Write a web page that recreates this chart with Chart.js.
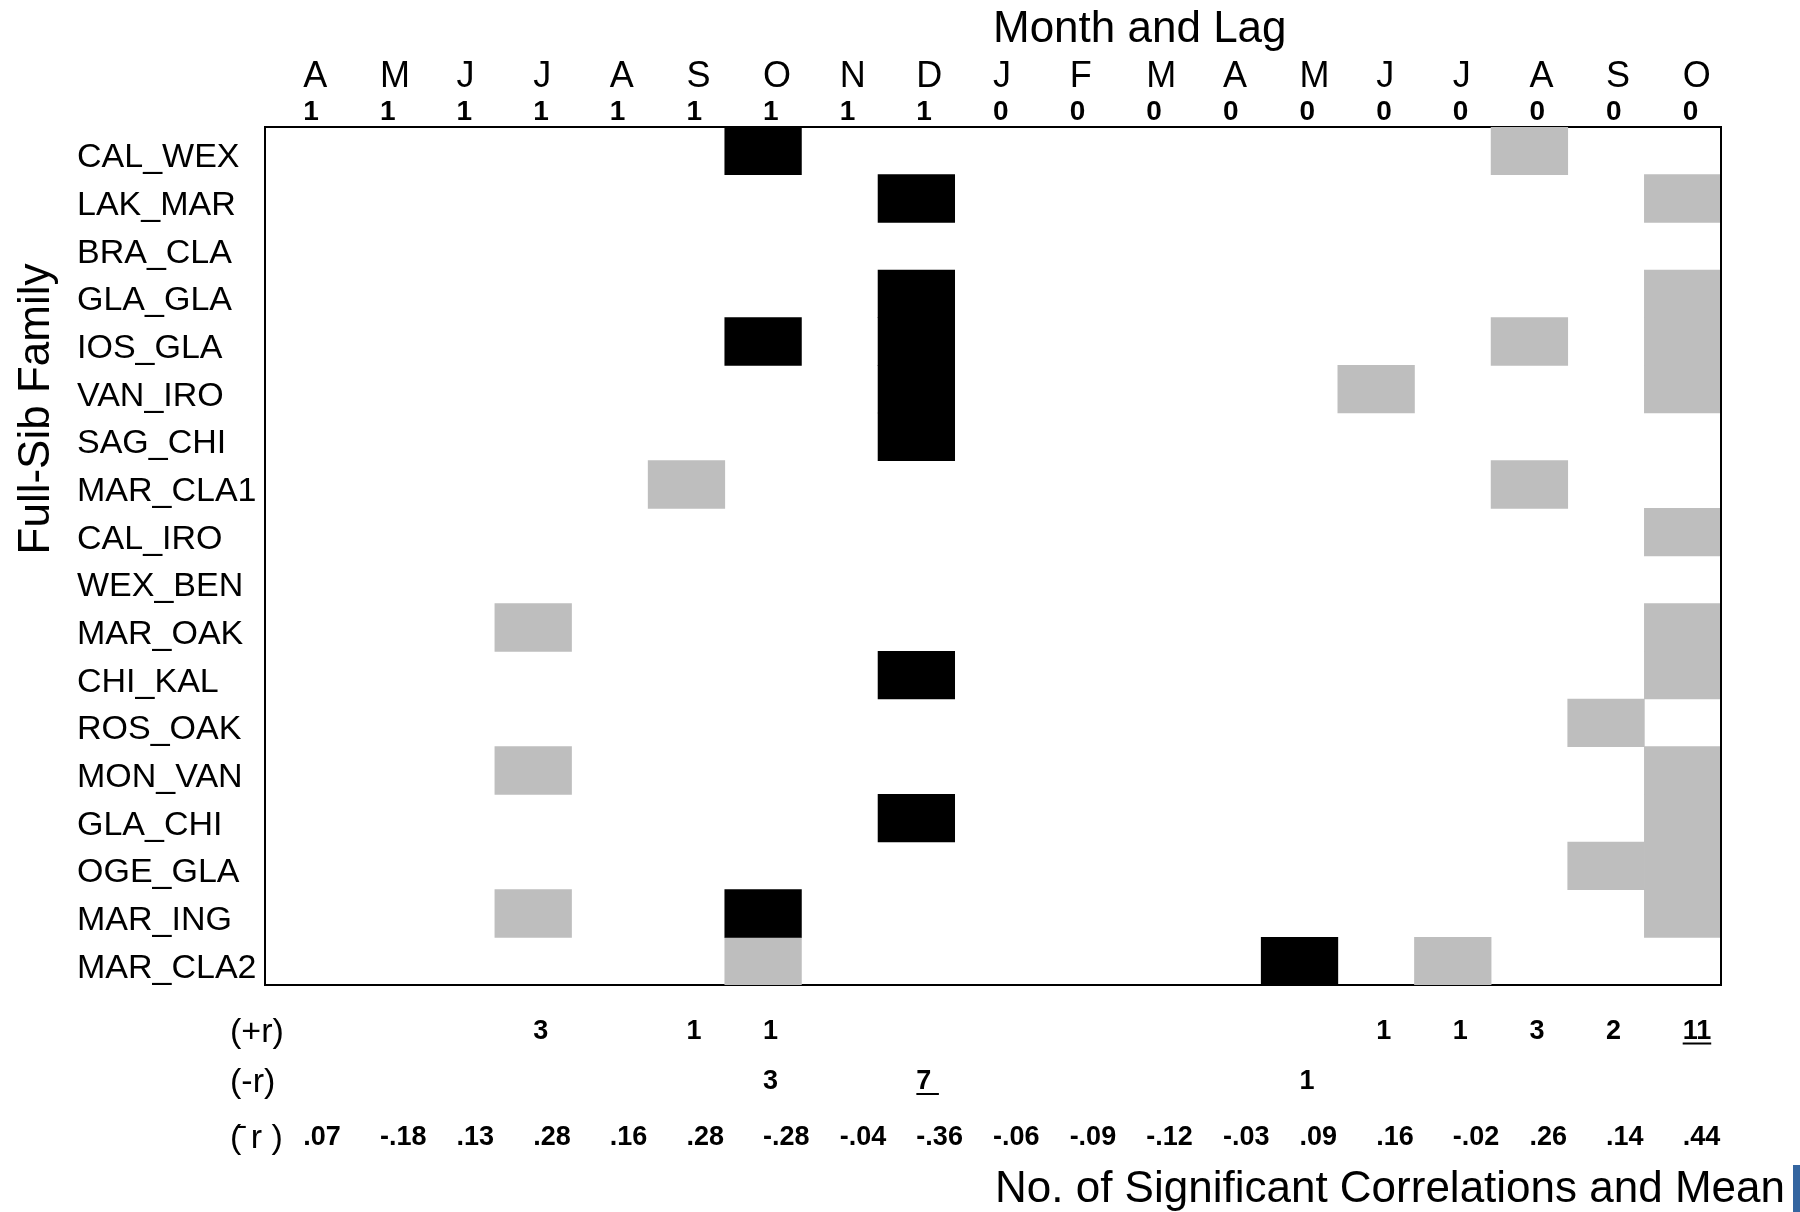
<!DOCTYPE html>
<html>
<head>
<meta charset="utf-8">
<title>Significant correlations by month and lag</title>
<script src="https://cdn.jsdelivr.net/npm/chart.js@4.4.1/dist/chart.umd.min.js"></script>
<style>
  html, body { margin: 0; padding: 0; background: #fff; }
  #wrap { width: 1800px; height: 1212px; }
</style>
</head>
<body>
<div id="wrap"><canvas id="chart" width="1800" height="1212"></canvas></div>
<script>
// rows of the grid, top to bottom
const families = ['CAL_WEX', 'LAK_MAR', 'BRA_CLA', 'GLA_GLA', 'IOS_GLA', 'VAN_IRO', 'SAG_CHI',
  'MAR_CLA1', 'CAL_IRO', 'WEX_BEN', 'MAR_OAK', 'CHI_KAL', 'ROS_OAK', 'MON_VAN', 'GLA_CHI',
  'OGE_GLA', 'MAR_ING', 'MAR_CLA2'];

// columns: month and lag (years)
const months = ['A', 'M', 'J', 'J', 'A', 'S', 'O', 'N', 'D', 'J', 'F', 'M', 'A', 'M', 'J', 'J', 'A', 'S', 'O'];
const lags = [1, 1, 1, 1, 1, 1, 1, 1, 1, 0, 0, 0, 0, 0, 0, 0, 0, 0, 0];

// column indexes of significant correlations for each family (same order as families)
const posCells = [[16], [18], [], [18], [16, 18], [14, 18], [], [5, 16], [18], [], [3, 18],
  [18], [17], [3, 18], [18], [17, 18], [3, 18], [6, 15]];
const negCells = [[6], [8], [], [8], [6, 8], [8], [8], [], [], [], [], [8], [], [], [8], [], [6], [13]];

// summary rows under the grid
const posCounts = [0, 0, 0, 3, 0, 1, 1, 0, 0, 0, 0, 0, 0, 0, 1, 1, 3, 2, 11];
const negCounts = [0, 0, 0, 0, 0, 0, 3, 0, 7, 0, 0, 0, 0, 1, 0, 0, 0, 0, 0];
const meanR = [.07, -.18, .13, .28, .16, .28, -.28, -.04, -.36, -.06, -.09, -.12, -.03, .09, .16, -.02, .26, .14, .44];

const GREY = '#bebebe';
const FONT = "'Liberation Sans', Arial, sans-serif";

function fmtR(v) {
  return (v < 0 ? '-' : '') + Math.abs(v).toFixed(2).replace(/^0/, '');
}
function countLabel(n) {
  return n ? String(n) : '';
}

const cols = months.map((m, i) => i);

// one floating-bar dataset per family row
const datasets = families.map((fam, r) => ({
  label: fam,
  data: cols.map(c => (posCells[r].includes(c) || negCells[r].includes(c)) ? [r, r + 1] : null),
  backgroundColor: cols.map(c => negCells[r].includes(c) ? '#000000' : GREY),
  xAxisID: 'lag',
  yAxisID: 'y',
  grouped: false,
  barPercentage: 1,
  categoryPercentage: 1,
  borderWidth: 0
}));

const noGrid = { display: false, drawTicks: false };

function xAxis(position, weight, labels, font, padding, height, border) {
  return {
    type: 'category',
    position: position,
    weight: weight,
    labels: labels,
    offset: true,
    grid: noGrid,
    border: border ? { display: true, color: '#000', width: 2 } : { display: false },
    ticks: {
      align: 'start',
      autoSkip: false,
      maxRotation: 0,
      minRotation: 0,
      color: '#000',
      padding: padding,
      font: font
    },
    afterFit: s => { s.height = height; }
  };
}

const bottomRows = [
  { text: '(+r)', axis: 'pos', counts: posCounts },
  { text: '(-r)', axis: 'neg', counts: negCounts },
  { text: '(\u0304 r )', axis: 'mean', counts: null }
];

const decorations = {
  id: 'decorations',
  afterDraw(chart) {
    const ctx = chart.ctx;
    const area = chart.chartArea;
    const mid = (area.left + area.right) / 2;
    ctx.save();
    ctx.fillStyle = '#000';
    ctx.textAlign = 'left';
    ctx.textBaseline = 'alphabetic';
    ctx.font = '44px ' + FONT;
    ctx.fillText('Month and Lag', mid, 42);
    ctx.fillText('No. of Significant Correlations and Mean', mid + 2, 1202);

    ctx.save();
    ctx.translate(49, 409);
    ctx.rotate(-Math.PI / 2);
    ctx.textAlign = 'center';
    ctx.fillText('Full-Sib Family', 0, 0);
    ctx.restore();

    // labels for the summary rows, and underline on the largest count
    bottomRows.forEach(row => {
      const sc = chart.scales[row.axis];
      const f = sc.options.ticks.font;
      const y = sc.top + sc.options.ticks.padding + f.size / 2;
      ctx.font = '34px ' + FONT;
      ctx.textBaseline = 'middle';
      ctx.textAlign = 'left';
      ctx.fillText(row.text, area.left - 35, y + 1);
      if (row.counts) {
        const max = Math.max(...row.counts);
        const i = row.counts.indexOf(max);
        ctx.font = 'bold ' + f.size + 'px ' + FONT;
        let lab = String(max);
        if (lab.length === 1) lab += ' ';
        const w = ctx.measureText(lab).width;
        const x = sc.getPixelForTick(i);
        ctx.fillRect(x, y + 11, w, 2);
      }
    });

    ctx.fillStyle = '#3465a0';
    ctx.fillRect(1793, 1165, 7, 47);
    ctx.restore();
  }
};

new Chart(document.getElementById('chart'), {
  type: 'bar',
  data: { labels: months, datasets: datasets },
  options: {
    responsive: false,
    animation: false,
    events: [],
    layout: { padding: { left: 77, top: 0, right: 0, bottom: 0 } },
    plugins: {
      legend: { display: false },
      tooltip: { enabled: false },
      title: { display: false }
    },
    scales: {
      month: xAxis('top', 2, months, { family: FONT, size: 36, lineHeight: 1 }, 0, 95, false),
      lag: xAxis('top', 1, lags.map(String), { family: FONT, size: 28, weight: 'bold', lineHeight: 1 }, 1, 32, true),
      pos: xAxis('bottom', 1, posCounts.map(countLabel), { family: FONT, size: 27, weight: 'bold', lineHeight: 1 }, 33, 70, true),
      neg: xAxis('bottom', 2, negCounts.map(countLabel), { family: FONT, size: 27, weight: 'bold', lineHeight: 1 }, 13.5, 50, false),
      mean: xAxis('bottom', 3, meanR.map(fmtR), { family: FONT, size: 27, weight: 'bold', lineHeight: 1 }, 19.5, 107, false),
      fam: {
        type: 'category',
        position: 'left',
        labels: families,
        offset: true,
        grid: noGrid,
        border: { display: true, color: '#000', width: 2 },
        ticks: {
          crossAlign: 'far',
          autoSkip: false,
          color: '#000',
          padding: 0,
          labelOffset: 7,
          font: { family: FONT, size: 34, lineHeight: 1 }
        },
        afterFit: s => { s.width = 188; }
      },
      y: {
        type: 'linear',
        position: 'right',
        min: 0,
        max: families.length,
        reverse: true,
        grid: noGrid,
        ticks: { display: false },
        border: { display: true, color: '#000', width: 2, z: 1 },
        afterFit: s => { s.width = 79; }
      }
    }
  },
  plugins: [decorations]
});
</script>
</body>
</html>
